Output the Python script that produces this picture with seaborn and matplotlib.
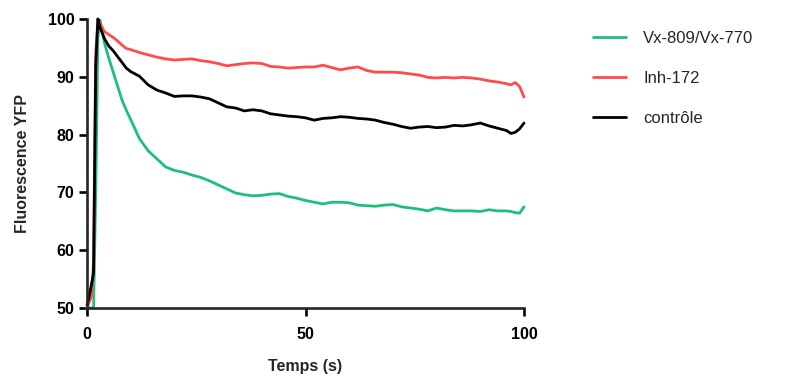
import matplotlib
matplotlib.use("Agg")
import matplotlib.pyplot as plt
import pandas as pd
import seaborn as sns

temps = [0, 0.5, 1, 1.5, 2, 2.5, 3, 4, 5, 6, 7, 8, 9, 10,
         12, 14, 16, 18, 20, 22, 24, 26, 28, 30, 32, 34, 36, 38, 40,
         42, 44, 46, 48, 50, 52, 54, 56, 58, 60, 62, 64, 66, 68, 70,
         72, 74, 76, 78, 80, 82, 84, 86, 88, 90, 92, 94, 96,
         97, 98, 99, 100]

vx = [50, 50, 50, 50, 70, 97, 99.8, 95.8, 93.2, 90.8, 88.4, 86, 84.2, 82.6,
      79.3, 77.2, 75.8, 74.4, 73.8, 73.5, 73, 72.6, 72, 71.3, 70.6, 69.9, 69.6, 69.4, 69.5,
      69.7, 69.8, 69.3, 69, 68.6, 68.3, 68, 68.3, 68.3, 68.2, 67.8, 67.7, 67.6, 67.8, 67.9,
      67.5, 67.3, 67.1, 66.8, 67.3, 67, 66.8, 66.8, 66.8, 66.7, 67, 66.8, 66.8,
      66.7, 66.5, 66.4, 67.5]

inh = [50, 51, 52, 58, 94, 100, 99.2, 97.8, 97.3, 96.8, 96.2, 95.5, 94.9, 94.7,
       94.2, 93.8, 93.4, 93.1, 92.9, 93, 93.1, 92.8, 92.6, 92.3, 91.9, 92.1, 92.3, 92.4, 92.3,
       91.8, 91.7, 91.5, 91.6, 91.7, 91.7, 92, 91.6, 91.2, 91.5, 91.7, 91.1, 90.8, 90.8, 90.8,
       90.7, 90.5, 90.3, 89.9, 89.8, 89.9, 89.8, 89.9, 89.8, 89.6, 89.3, 89.1, 88.8,
       88.6, 89, 88.3, 86.5]

controle = [50.5, 52, 54, 56, 92, 100, 98.5, 96.6, 95.3, 94.5, 93.5, 92.5, 91.5, 90.9,
            90.1, 88.6, 87.7, 87.2, 86.6, 86.7, 86.7, 86.5, 86.2, 85.5, 84.8, 84.6, 84.1, 84.3, 84.1,
            83.6, 83.4, 83.2, 83.1, 82.9, 82.5, 82.8, 82.9, 83.1, 83, 82.8, 82.7, 82.5, 82.1, 81.8,
            81.4, 81.1, 81.3, 81.4, 81.2, 81.3, 81.6, 81.5, 81.7, 82, 81.5, 81.1, 80.7,
            80.2, 80.4, 81, 82]

series = ["Vx-809/Vx-770", "Inh-172", "contrôle"]
couleurs = ["#1DBF7C", "#FF4B4B", "#000000"]

df = pd.concat([
    pd.DataFrame({"Temps": temps, "YFP": vals, "groupe": nom})
    for nom, vals in zip(series, [vx, inh, controle])
])

sns.set_style("ticks")
plt.rcParams['font.family'] = ['Liberation Sans', 'DejaVu Sans']

fig = plt.figure(figsize=(7.95, 3.76), dpi=100)
ax = fig.add_axes([87 / 795, 1 - 308 / 376, 437 / 795, 289 / 376])

sns.lineplot(data=df, x="Temps", y="YFP", hue="groupe", hue_order=series,
             palette=couleurs, linewidth=2, ax=ax, legend=True)
for ln in ax.lines:
    ln.set_clip_on(False)

ax.set_xlim(0, 100)
ax.set_ylim(50, 100)
ax.set_xticks([0, 50, 100])
ax.set_yticks([50, 60, 70, 80, 90, 100])

for side in ["top", "right"]:
    ax.spines[side].set_visible(False)
for side in ["left", "bottom"]:
    ax.spines[side].set_linewidth(1.9)

ax.tick_params(axis="both", width=1.9, length=6, pad=3, labelsize=11.5, colors="black")
for lab in ax.get_xticklabels() + ax.get_yticklabels():
    lab.set_fontweight("bold")
ax.tick_params(axis="x", pad=8)

ax.set_xlabel("Temps (s)", fontsize=11.5, fontweight="bold", labelpad=12)
ax.set_ylabel("Fluorescence YFP", fontsize=11.5, fontweight="bold", labelpad=13)

ax.legend(loc="upper left", bbox_to_anchor=(0.737, 0.935), bbox_transform=fig.transFigure,
          frameon=False, fontsize=12, handlelength=2, handletextpad=1.05,
          labelspacing=1.5, borderaxespad=0)

fig.savefig("out.png", dpi=100)
